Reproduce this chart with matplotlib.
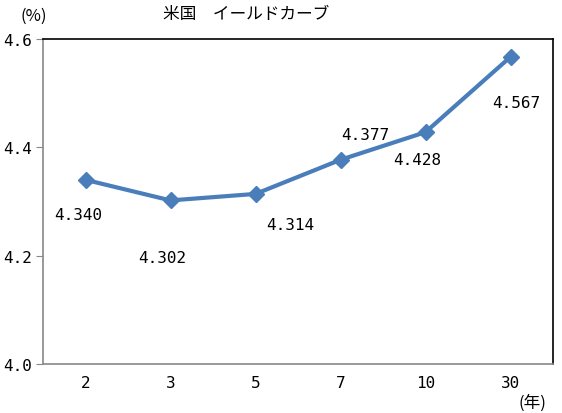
import matplotlib
matplotlib.use("Agg")
import matplotlib.pyplot as plt

plt.rcParams['font.family'] = ['Noto Sans CJK JP', 'DejaVu Sans']
NUMFONT = ['DejaVu Sans Mono']

categories = ["2", "3", "5", "7", "10", "30"]
yields = [4.340, 4.302, 4.314, 4.377, 4.428, 4.567]
yticks = [4.0, 4.2, 4.4, 4.6]
ytick_labels = ["4.0", "4.2", "4.4", "4.6"]
# label offsets in points (dx, dy)
offsets = [(-5, -25), (-6, -41), (25, -22), (18, 18), (-6, -20), (4, -33)]

fig = plt.figure(figsize=(5.62, 4.14), dpi=100)
ax = fig.add_axes([43/562, 1-365/414, 510/562, 325/414])

x = list(range(len(categories)))
ax.plot(x, yields, color='#4a7ebb', lw=3, marker='D', ms=8, mec='#4a7ebb', mfc='#4a7ebb')
for xi, yi, (dx, dy) in zip(x, yields, offsets):
    ax.annotate(f"{yi:.3f}", (xi, yi), xytext=(dx, dy), textcoords='offset points',
                ha='center', va='center', fontsize=11.5, color='black', family=NUMFONT)

ax.set_xlim(-0.5, len(categories) - 0.5)
ax.set_ylim(4.0, 4.6)
ax.set_xticks(x)
ax.set_xticklabels(categories, fontsize=11.5, family=NUMFONT)
ax.set_yticks(yticks)
ax.set_yticklabels(ytick_labels, fontsize=11.5, family=NUMFONT)
ax.tick_params(axis='x', length=0, pad=8)
ax.tick_params(axis='y', length=5, direction='out', color='#888888', pad=3)

for s in ['top', 'right']:
    ax.spines[s].set_color('black')
    ax.spines[s].set_linewidth(1.2)
for s in ['left', 'bottom']:
    ax.spines[s].set_color('#888888')
    ax.spines[s].set_linewidth(1.2)

fig.text(163/562, 1-15/414, "米国　イールドカーブ", fontsize=12, ha='left', va='center')
fig.text(20/562, 1-16/414, "(%)", fontsize=12, ha='left', va='center')
fig.text(519/562, 1-403/414, "(年)", fontsize=12, ha='left', va='center')

fig.savefig("out.png", dpi=100)
